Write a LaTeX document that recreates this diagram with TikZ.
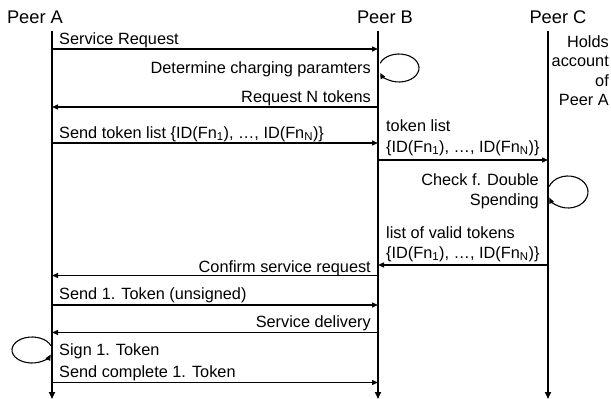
\documentclass[tikz,border=0pt]{standalone}
\usepackage{fontspec}
\setmainfont{Liberation Sans}
\usetikzlibrary{arrows.meta,calc}
\newcommand{\Fn}[1]{Fn\textsubscript{#1}}
\begin{document}
\begin{tikzpicture}[x=1pt,y=-1pt,
  life/.style={line width=1.6pt,-{Triangle[length=7pt,width=6pt]}},
  msg/.style={line width=1.3pt,-{Triangle[length=6pt,width=5pt]}},
  loopline/.style={line width=1.1pt,-{Triangle[length=6pt,width=5pt]}},
  head/.style={inner sep=0pt,font=\fontsize{18.3}{22}\selectfont},
  lab/.style={inner sep=0pt,font=\fontsize{16.3}{19.5}\selectfont},
]
\useasboundingbox (0,0) rectangle (611,399);
% headers
\node[head,anchor=base] (hA) at (35,23) {Peer A};
\node[head,anchor=base] (hB) at (385,23) {Peer B};
\node[head,anchor=base] (hC) at (558,23) {Peer C};
% lifelines
\coordinate (At) at (52,31); \coordinate (Ab) at (52,399);
\coordinate (Bt) at (378,31); \coordinate (Bb) at (378,399);
\coordinate (Ct) at (548,31); \coordinate (Cb) at (548,399);
\draw[life] (At) -- (Ab);
\draw[life] (Bt) -- (Bb);
\draw[life] (Ct) -- (Cb);
% note at C
\node[lab,align=right,anchor=north east] (note) at (609,35) {Holds\\account\\of\\Peer A};
% 1 Service Request
\coordinate (A1) at (52,49); \coordinate (B1) at (378,49);
\draw[msg] (A1) -- (B1);
\node[lab,anchor=base west] (l1) at (59,44) {Service Request};
% 2 loop at B
\coordinate (LB) at (399,68);
\draw[loopline] ([shift={(160:20pt and 14pt)}]LB) arc[start angle=160,end angle=-160,x radius=20pt,y radius=14pt];
\node[lab,anchor=base east] (l2) at (371,73) {Determine charging paramters};
% 3 Request N tokens
\coordinate (B3) at (378,107); \coordinate (A3) at (52,107);
\draw[msg] (B3) -- (A3);
\node[lab,anchor=base east] (l3) at (371,102.5) {Request N tokens};
% 4 Send token list
\coordinate (A4) at (52,143); \coordinate (B4) at (378,143);
\draw[msg] (A4) -- (B4);
\node[lab,anchor=base west] (l4) at (59,138) {Send token list \{ID(\Fn{1}), …, ID(\Fn{N})\}};
% 5 token list B->C
\coordinate (B5) at (378,160); \coordinate (C5) at (548,160);
\draw[msg] (B5) -- (C5);
\node[lab,anchor=base west] (l5a) at (386,131) {token list};
\node[lab,anchor=base west] (l5b) at (386,152) {\{ID(\Fn{1}), …, ID(\Fn{N})\}};
% 6 loop at C
\coordinate (LC) at (568,192);
\draw[loopline] ([shift={(160:20pt and 16pt)}]LC) arc[start angle=160,end angle=-160,x radius=20pt,y radius=16pt];
\node[lab,anchor=base east] (l6a) at (539,185) {Check f. Double};
\node[lab,anchor=base east] (l6b) at (539,205) {Spending};
% 7 list of valid tokens C->B
\coordinate (C7) at (548,265); \coordinate (B7) at (378,265);
\draw[msg] (C7) -- (B7);
\node[lab,anchor=base west] (l7a) at (386,238) {list of valid tokens};
\node[lab,anchor=base west] (l7b) at (386,258) {\{ID(\Fn{1}), …, ID(\Fn{N})\}};
% 8 Confirm service request
\coordinate (B8) at (378,275.5); \coordinate (A8) at (52,275.5);
\draw[msg] (B8) -- (A8);
\node[lab,anchor=base east] (l8) at (371,272) {Confirm service request};
% 9 Send 1. Token (unsigned)
\coordinate (A9) at (52,305); \coordinate (B9) at (378,305);
\draw[msg] (A9) -- (B9);
\node[lab,anchor=base west] (l9) at (59,299.5) {Send 1. Token (unsigned)};
% 10 Service delivery
\coordinate (B10) at (378,332.5); \coordinate (A10) at (52,332.5);
\draw[msg] (B10) -- (A10);
\node[lab,anchor=base east] (l10) at (371,327) {Service delivery};
% 11 loop at A
\coordinate (LA) at (32,350);
\draw[loopline] ([shift={(20:20pt and 13pt)}]LA) arc[start angle=20,end angle=340,x radius=20pt,y radius=13pt];
\node[lab,anchor=base west] (l11) at (59,355) {Sign 1. Token};
% 12 Send complete 1. Token
\coordinate (A12) at (52,382.5); \coordinate (B12) at (378,382.5);
\draw[msg] (A12) -- (B12);
\node[lab,anchor=base west] (l12) at (59,377.5) {Send complete 1. Token};
\end{tikzpicture}
\end{document}
